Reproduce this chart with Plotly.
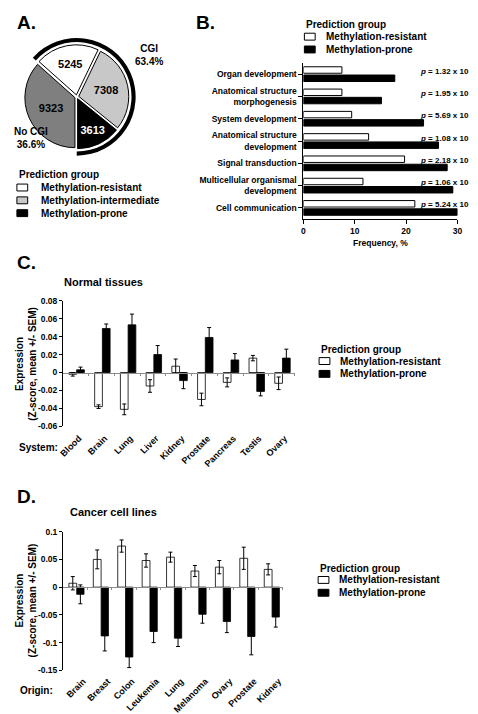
import plotly.graph_objects as go

W, H = 478, 714
FONT = "Liberation Sans, Arial, sans-serif"

# ---------------- data ----------------
# Panel A: gene counts per group
pie_labels = ["No CGI", "Methylation-prone", "Methylation-intermediate", "Methylation-resistant"]
pie_values = [9323, 3613, 7308, 5245]
pie_colors = ["#7f7f7f", "#000000", "#c8c8c8", "#ffffff"]
pie_text_colors = ["black", "white", "black", "black"]
legend_a_groups = ["Methylation-resistant", "Methylation-intermediate", "Methylation-prone"]
legend_a_colors = ["#ffffff", "#c8c8c8", "#000000"]
legend_bcd_groups = ["Methylation-resistant", "Methylation-prone"]
legend_bcd_colors = ["#ffffff", "#000000"]

# Panel B: GO terms
go_terms = ["Organ development", "Anatomical structure<br>morphogenesis", "System development",
            "Anatomical structure<br>development", "Signal transduction",
            "Multicellular organismal<br>development", "Cell communication"]
freq_resistant = [7.5, 7.5, 9.4, 12.7, 19.7, 11.6, 21.7]
freq_prone = [17.8, 15.2, 23.4, 26.3, 28.0, 29.1, 30.0]
p_mantissa = ["1.32", "1.95", "5.69", "1.08", "2.18", "1.06", "5.24"]
p_exponent = ["-21", "-13", "-34", "-27", "-08", "-45", "-69"]
freq_ticks = [0, 10, 20, 30]

# Panel C: normal tissues
tissues = ["Blood", "Brain", "Lung", "Liver", "Kidney", "Prostate", "Pancreas", "Testis", "Ovary"]
normal_resistant = [-0.002, -0.038, -0.041, -0.015, 0.007, -0.030, -0.011, 0.016, -0.012]
normal_resistant_sem = [0.002, 0.002, 0.006, 0.007, 0.008, 0.007, 0.005, 0.003, 0.007]
normal_prone = [0.003, 0.049, 0.053, 0.020, -0.009, 0.039, 0.014, -0.021, 0.016]
normal_prone_sem = [0.003, 0.005, 0.012, 0.010, 0.009, 0.011, 0.007, 0.005, 0.010]
normal_ticks = [-0.06, -0.04, -0.02, 0, 0.02, 0.04, 0.06, 0.08]
normal_tick_text = ["-0.06", "-0.04", "-0.02", "0", "0.02", "0.04", "0.06", "0.08"]

# Panel D: cancer cell lines
origins = ["Brain", "Breast", "Colon", "Leukemia", "Lung", "Melanoma", "Ovary", "Prostate", "Kidney"]
cancer_resistant = [0.007, 0.050, 0.074, 0.048, 0.054, 0.029, 0.036, 0.052, 0.032]
cancer_resistant_sem = [0.012, 0.017, 0.011, 0.012, 0.009, 0.010, 0.012, 0.020, 0.010]
cancer_prone = [-0.013, -0.088, -0.126, -0.080, -0.092, -0.049, -0.062, -0.089, -0.054]
cancer_prone_sem = [0.017, 0.027, 0.019, 0.020, 0.015, 0.016, 0.020, 0.033, 0.018]
cancer_ticks = [-0.15, -0.1, -0.05, 0, 0.05, 0.1]
cancer_tick_text = ["-0.15", "-0.1", "-0.05", "0", "0.05", "0.1"]


def fx(px):
    return px / W


def fy(py):
    return 1 - py / H


fig = go.Figure()

# ---------------- Panel A ----------------
total = sum(pie_values)
no_cgi = pie_values[0]
cgi = total - no_cgi
cx, cy = 66, 85
r_pie, pull = 51, 0.04
r_ring = 60
fig.add_trace(go.Pie(
    labels=["No CGI ring", "CGI ring"], values=[no_cgi, cgi], sort=False,
    direction="counterclockwise", rotation=180, hole=0.93,
    marker=dict(colors=["rgba(0,0,0,0)", "black"], line=dict(width=0)),
    textinfo="none", hoverinfo="skip", showlegend=False,
    domain=dict(x=[fx(cx - r_ring), fx(cx + r_ring)], y=[fy(cy + r_ring), fy(cy - r_ring)]),
))
side = r_pie * (1 + pull)
fig.add_trace(go.Pie(
    labels=pie_labels, values=pie_values, sort=False,
    direction="counterclockwise", rotation=180, pull=pull,
    marker=dict(colors=pie_colors, line=dict(color="black", width=1)),
    textinfo="value", textposition="inside", insidetextorientation="horizontal",
    textfont=dict(family=FONT, size=11, color=pie_text_colors, weight="bold"),
    showlegend=False,
    domain=dict(x=[fx(cx - side), fx(cx + side)], y=[fy(cy + side), fy(cy - side)]),
))

# ---------------- Panel B ----------------
fig.add_trace(go.Bar(y=go_terms, x=freq_resistant, orientation="h", name="Methylation-resistant",
                     xaxis="x2", yaxis="y2", width=0.29, offset=-0.33, showlegend=False,
                     marker=dict(color="white", line=dict(color="black", width=1))))
fig.add_trace(go.Bar(y=go_terms, x=freq_prone, orientation="h", name="Methylation-prone",
                     xaxis="x2", yaxis="y2", width=0.29, offset=0.04, showlegend=False,
                     marker=dict(color="black", line=dict(color="black", width=1))))

# ---------------- Panel C ----------------
err_style = dict(type="data", color="black", thickness=1, width=2)
fig.add_trace(go.Bar(x=tissues, y=normal_resistant, name="Methylation-resistant",
                     xaxis="x3", yaxis="y3", width=0.3, offset=-0.27, showlegend=False,
                     error_y=dict(array=normal_resistant_sem, **err_style),
                     marker=dict(color="white", line=dict(color="black", width=0.8))))
fig.add_trace(go.Bar(x=tissues, y=normal_prone, name="Methylation-prone",
                     xaxis="x3", yaxis="y3", width=0.3, offset=0.03, showlegend=False,
                     error_y=dict(array=normal_prone_sem, **err_style),
                     marker=dict(color="black", line=dict(color="black", width=0.8))))
fig.add_trace(go.Scatter(x=[None], y=[None], xaxis="x5", yaxis="y3", showlegend=False,
                         hoverinfo="skip", mode="markers"))

# ---------------- Panel D ----------------
fig.add_trace(go.Bar(x=origins, y=cancer_resistant, name="Methylation-resistant",
                     xaxis="x4", yaxis="y4", width=0.32, offset=-0.26, showlegend=False,
                     error_y=dict(array=cancer_resistant_sem, **err_style),
                     marker=dict(color="white", line=dict(color="black", width=0.8))))
fig.add_trace(go.Bar(x=origins, y=cancer_prone, name="Methylation-prone",
                     xaxis="x4", yaxis="y4", width=0.30, offset=0.06, showlegend=False,
                     error_y=dict(array=cancer_prone_sem, **err_style),
                     marker=dict(color="black", line=dict(color="black", width=0.8))))
fig.add_trace(go.Scatter(x=[None], y=[None], xaxis="x6", yaxis="y4", showlegend=False,
                         hoverinfo="skip", mode="markers"))

# ---------------- layout ----------------
bold = dict(family=FONT, color="black", weight="bold")


def zero_pos(dom, rng):
    return dom[0] + (0 - rng[0]) / (rng[1] - rng[0]) * (dom[1] - dom[0])


c_dom_x = [fx(52), fx(288)]
c_dom_y = [fy(419.3), fy(291.7)]
c_rng = [-0.06, 0.08]
d_dom_x = [fx(52), fx(276)]
d_dom_y = [fy(666.7), fy(526)]
d_rng = [-0.15, 0.1]
n_c = len(tissues)
n_d = len(origins)

axis_common = dict(showgrid=False, zeroline=False, linecolor="black", linewidth=1,
                   tickcolor="black", tickwidth=1)

fig.update_layout(
    width=W, height=H, margin=dict(l=0, r=0, t=0, b=0),
    paper_bgcolor="white", plot_bgcolor="rgba(0,0,0,0)",
    font=dict(size=10, **bold),
    barmode="group", showlegend=False,
    # B
    xaxis2=dict(domain=[fx(297), fx(454)], range=[0, 30], anchor="y2", showline=True,
                ticks="outside", ticklen=4, tickvals=freq_ticks, tickfont=dict(size=8.5, **bold),
                title=dict(text="Frequency, %", font=dict(size=8.5, **bold), standoff=4),
                **axis_common),
    yaxis2=dict(domain=[fy(209), fy(50.7)], anchor="x2", type="category",
                range=[len(go_terms) - 0.5, -0.5], showline=True, ticks="outside", ticklen=4,
                tickfont=dict(size=8.5, **bold), **axis_common),
    # C
    xaxis3=dict(domain=c_dom_x, anchor="y3", type="category", range=[-0.5, n_c - 0.5],
                showline=False, ticks="", tickangle=-45, tickfont=dict(size=9, **bold),
                ticklabelstandoff=4, ticklabelshift=3, **axis_common),
    yaxis3=dict(domain=c_dom_y, anchor="x3", range=c_rng, showline=True, ticks="outside",
                ticklen=3, tickvals=normal_ticks, ticktext=normal_tick_text,
                tickfont=dict(size=8.5, **bold), **axis_common),
    xaxis5=dict(overlaying="x3", anchor="free", position=zero_pos(c_dom_y, c_rng),
                range=[-0.5, n_c - 0.5], showline=True, linecolor="#8c8c8c", linewidth=1,
                ticks="outside", ticklen=2, tickcolor="#8c8c8c",
                tickvals=[i + 0.5 for i in range(n_c)], showticklabels=False,
                showgrid=False, zeroline=False),
    # D
    xaxis4=dict(domain=d_dom_x, anchor="y4", type="category", range=[-0.5, n_d - 0.5],
                showline=False, ticks="", tickangle=-45, tickfont=dict(size=9, **bold),
                ticklabelstandoff=3, ticklabelshift=8, **axis_common),
    yaxis4=dict(domain=d_dom_y, anchor="x4", range=d_rng, showline=True, ticks="outside",
                ticklen=3, tickvals=cancer_ticks, ticktext=cancer_tick_text,
                tickfont=dict(size=8.5, **bold), **axis_common),
    xaxis6=dict(overlaying="x4", anchor="free", position=zero_pos(d_dom_y, d_rng),
                range=[-0.5, n_d - 0.5], showline=True, linecolor="#8c8c8c", linewidth=1,
                ticks="outside", ticklen=2, tickcolor="#8c8c8c",
                tickvals=[i + 0.5 for i in range(n_d)], showticklabels=False,
                showgrid=False, zeroline=False),
)

ann = []
shapes = []


def paper_text(text, px, py, size=10, xanchor="center", **kw):
    ann.append(dict(text=text, x=fx(px), y=fy(py), xref="paper", yref="paper",
                    xanchor=xanchor, yanchor="middle", showarrow=False,
                    font=dict(size=size, **bold), **kw))


def legend_block(x0, y_title, y_items, names, colors, text_dx, sw_w=11, sw_h=7):
    paper_text("Prediction group", x0, y_title, size=10, xanchor="left")
    for name, col, yc in zip(names, colors, y_items):
        shapes.append(dict(type="rect", xref="paper", yref="paper",
                           x0=fx(x0), x1=fx(x0 + sw_w), y0=fy(yc + sw_h / 2), y1=fy(yc - sw_h / 2),
                           fillcolor=col, line=dict(color="black", width=1)))
        paper_text(name, x0 + text_dx, yc, size=10, xanchor="left")


legend_block(5, 164, [177, 190, 203], legend_a_groups, legend_a_colors, 23)
legend_block(298, 12, [24, 37], legend_bcd_groups, legend_bcd_colors, 20)
legend_block(313, 341, [353, 366], legend_bcd_groups, legend_bcd_colors, 19)
legend_block(312, 563, [575, 588], legend_bcd_groups, legend_bcd_colors, 19.5)

# panel letters
for letter, px, py in [("A.", 3, 10), ("B.", 185, 10), ("C.", 3, 253), ("D.", 3, 490)]:
    paper_text(letter, px, py, size=19, xanchor="left")
# CGI labels
paper_text(f"CGI<br>{100 * cgi / total:.1f}%", 140, 43)
paper_text(f"No CGI<br>{100 * no_cgi / total:.1f}%", 0, 127, xanchor="left")
# p-values: main text plus a small raised exponent
for term, m, e in zip(go_terms, p_mantissa, p_exponent):
    ann.append(dict(text=f"<i>p</i> = {m} x 10", x=fx(466.5), y=term,
                    xref="paper", yref="y2", xanchor="right", yanchor="middle", yshift=3,
                    showarrow=False, font=dict(size=8, **bold), borderpad=0))
    ann.append(dict(text=e, x=fx(466), y=term,
                    xref="paper", yref="y2", xanchor="left", yanchor="middle", yshift=6.5,
                    showarrow=False, font=dict(size=5.5, **bold), borderpad=0))
# titles
paper_text("Normal tissues", 93, 273, size=11)
paper_text("Cancer cell lines", 103, 506, size=11)
# y-axis titles
for py in (356, 596):
    paper_text("Expression<br>(Z-score, mean +/- SEM)", 14, py, size=10, textangle=-90)
paper_text("System:", 5, 441, xanchor="left")
paper_text("Origin:", 6, 687, xanchor="left")

fig.update_layout(annotations=ann, shapes=shapes)

fig.write_html("out.html")
